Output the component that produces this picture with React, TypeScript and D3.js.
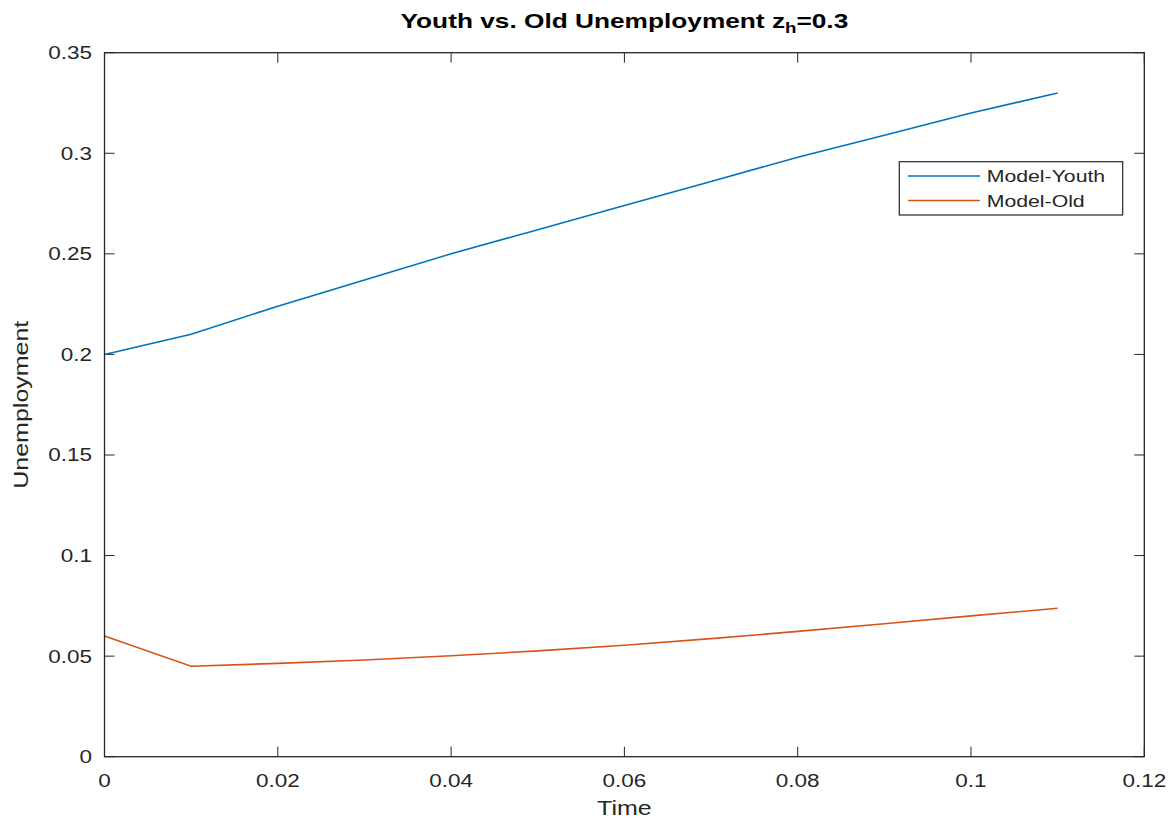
import React from "react";
import * as d3 from "d3";

const times = [0, 0.01, 0.02, 0.03, 0.04, 0.05, 0.06, 0.07, 0.08, 0.09, 0.1, 0.11];
const youth = [0.2, 0.21, 0.224, 0.237, 0.25, 0.262, 0.274, 0.286, 0.298, 0.309, 0.32, 0.33];
const old = [0.06, 0.045, 0.0464, 0.0481, 0.0502, 0.0526, 0.0554, 0.0587, 0.0623, 0.0661, 0.07, 0.0738];
const xTicks = [0, 0.02, 0.04, 0.06, 0.08, 0.1, 0.12];
const yTicks = [0, 0.05, 0.1, 0.15, 0.2, 0.25, 0.3, 0.35];
const seriesNames = ["Model-Youth", "Model-Old"];
const seriesColors = ["#0072BD", "#D95319"];

const W = 1172;
const H = 819;
const L = 104.5, R = 1144.3, T = 52.7, B = 756.7;
const SX = 1.25;
const FONT = "'Liberation Sans', Arial, Helvetica, sans-serif";
const AX = "#262626";

function fmt(v: number) {
  if (v === 0) return "0";
  return String(+v.toFixed(3));
}

export default function App() {
  const x = d3.scaleLinear().domain([0, 0.12]).range([L, R]);
  const y = d3.scaleLinear().domain([0, 0.35]).range([B, T]);
  const line = d3
    .line<number>()
    .x((_, i) => x(times[i]))
    .y((d) => y(d));
  const tick = 10;
  const series = [youth, old];
  const lgL = 899.3, lgT = 161.7, lgR = 1122.7, lgB = 215;
  const lgRows = [176, 200.5];

  return (
    <svg
      width={W}
      height={H}
      style={{ position: "absolute", left: 0, top: 0, background: "#fff" }}
      fontFamily={FONT}
    >
      <rect x={0} y={0} width={W} height={H} fill="#fff" />
      {xTicks.map((t) => (
        <g key={"xt" + t}>
          <line x1={x(t)} x2={x(t)} y1={B} y2={B - tick} stroke={AX} />
          <line x1={x(t)} x2={x(t)} y1={T} y2={T + tick} stroke={AX} />
          <text
            transform={`translate(${x(t)},${787}) scale(${SX},1)`}
            textAnchor="middle"
            fontSize={18}
            fill={AX}
          >
            {fmt(t)}
          </text>
        </g>
      ))}
      {yTicks.map((t) => (
        <g key={"yt" + t}>
          <line x1={L} x2={L + tick} y1={y(t)} y2={y(t)} stroke={AX} />
          <line x1={R} x2={R - tick} y1={y(t)} y2={y(t)} stroke={AX} />
          <text
            transform={`translate(${92},${y(t) + 6.5}) scale(${SX},1)`}
            textAnchor="end"
            fontSize={18}
            fill={AX}
          >
            {fmt(t)}
          </text>
        </g>
      ))}
      {series.map((s, i) => (
        <path key={i} d={line(s) || ""} fill="none" stroke={seriesColors[i]} strokeWidth={1.6} />
      ))}
      <rect x={L} y={T} width={R - L} height={B - T} fill="none" stroke={AX} strokeWidth={1.3} />
      <text
        transform={`translate(${(L + R) / 2},${815}) scale(${SX},1)`}
        textAnchor="middle"
        fontSize={20}
        fill={AX}
      >
        Time
      </text>
      <text
        transform={`translate(${28},${(T + B) / 2}) rotate(-90) scale(${SX},1)`}
        textAnchor="middle"
        fontSize={20}
        fill={AX}
      >
        Unemployment
      </text>
      <text
        transform={`translate(${(L + R) / 2},${28}) scale(${SX},1)`}
        textAnchor="middle"
        fontSize={21}
        fontWeight="bold"
        fill="#000"
      >
        Youth vs. Old Unemployment z
        <tspan fontSize={15} dy={5}>h</tspan>
        <tspan dy={-5}>=0.3</tspan>
      </text>
      <rect x={lgL} y={lgT} width={lgR - lgL} height={lgB - lgT} fill="#fff" stroke={AX} strokeWidth={1.2} />
      {seriesNames.map((n, i) => (
        <g key={n}>
          <line x1={908} x2={980} y1={lgRows[i]} y2={lgRows[i]} stroke={seriesColors[i]} strokeWidth={1.6} />
          <text
            transform={`translate(${986.7},${lgRows[i] + 6}) scale(${SX},1)`}
            fontSize={17}
            fill={AX}
          >
            {n}
          </text>
        </g>
      ))}
    </svg>
  );
}
